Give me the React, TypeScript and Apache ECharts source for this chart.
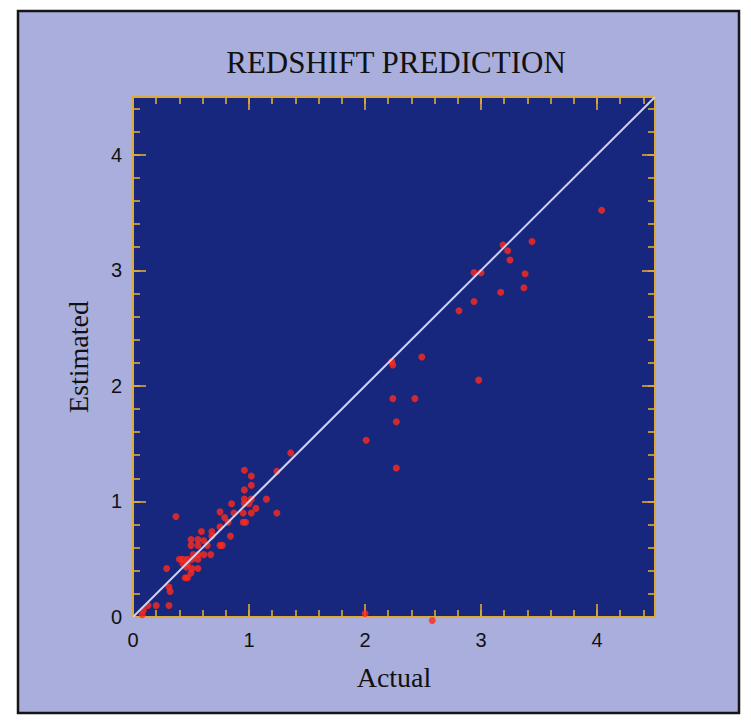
import React, { useEffect, useRef } from "react";
import * as echarts from "echarts";

const TITLE = "REDSHIFT PREDICTION";
const X_NAME = "Actual";
const Y_NAME = "Estimated";
const AXIS_MIN = 0;
const AXIS_MAX = 4.5;
const MAJOR_STEP = 1;
const MINOR_STEP = 0.2;

// Actual redshift of each galaxy
const actual = [
  4.04, 3.44, 3.19, 3.23, 3.25, 2.94, 3.0, 3.38, 3.37, 3.17, 2.94, 2.81,
  2.49, 2.23, 2.24, 2.98, 2.24, 2.43, 2.27, 2.01, 2.27,
  2.0, 2.58,
  1.36, 0.96, 1.24, 1.02, 1.02, 0.96, 0.96, 1.02, 1.15, 0.85, 0.96, 1.0,
  1.06, 0.75, 0.87, 0.95, 1.02, 1.24, 0.37, 0.79, 0.82, 0.95, 0.97, 0.75,
  0.59, 0.68, 0.68, 0.84, 0.5, 0.56, 0.61, 0.5, 0.56, 0.64, 0.75, 0.77,
  0.52, 0.56, 0.61, 0.67, 0.4, 0.43, 0.47, 0.51, 0.56, 0.43, 0.47, 0.46,
  0.51, 0.56, 0.29, 0.5, 0.45, 0.47, 0.31, 0.32, 0.31, 0.2, 0.13, 0.08, 0.09,
];

// Estimated redshift of each galaxy
const estimated = [
  3.52, 3.25, 3.22, 3.17, 3.09, 2.98, 2.98, 2.97, 2.85, 2.81, 2.73, 2.65,
  2.25, 2.21, 2.18, 2.05, 1.89, 1.89, 1.69, 1.53, 1.29,
  0.03, -0.03,
  1.42, 1.27, 1.26, 1.22, 1.14, 1.1, 1.02, 1.02, 1.02, 0.98, 0.98, 0.98,
  0.94, 0.91, 0.9, 0.9, 0.9, 0.9, 0.87, 0.86, 0.82, 0.82, 0.82, 0.78,
  0.74, 0.74, 0.7, 0.7, 0.67, 0.67, 0.66, 0.62, 0.62, 0.62, 0.62, 0.62,
  0.54, 0.54, 0.54, 0.54, 0.5, 0.5, 0.5, 0.5, 0.5, 0.46, 0.46, 0.43,
  0.42, 0.42, 0.42, 0.38, 0.34, 0.34, 0.26, 0.22, 0.1, 0.1, 0.1, 0.02, 0.06,
];

// Perfect-prediction diagonal
const diagonal = [
  [AXIS_MIN, AXIS_MIN],
  [AXIS_MAX, AXIS_MAX],
];

const LAVENDER = "#a9aedd";
const NAVY = "#16277d";
const GOLD = "#dcaa3a";
const RED = "#ff2a1c";

const labelFmt = (v: number) =>
  Math.abs(v - Math.round(v)) < 1e-6 ? String(Math.round(v)) : "";

function makeAxis(
  dir: "x" | "y",
  position: string,
  major: boolean,
  showLabel: boolean,
  withName: boolean
) {
  const ax: any = {
    type: "value",
    gridIndex: 0,
    position,
    min: AXIS_MIN,
    max: AXIS_MAX,
    interval: major ? MAJOR_STEP : MINOR_STEP,
    axisLine: {
      show: true,
      onZero: false,
      lineStyle: { color: GOLD, width: 2 },
    },
    axisTick: {
      show: true,
      inside: true,
      length: major ? 13 : 7,
      lineStyle: { color: GOLD, width: 1.6 },
    },
    axisLabel: {
      show: showLabel,
      formatter: labelFmt,
      fontFamily: "Liberation Sans",
      fontSize: 20,
      color: "#111",
      margin: dir === "x" ? 13 : 11,
    },
    splitLine: { show: false },
  };
  if (withName) {
    ax.name = dir === "x" ? X_NAME : Y_NAME;
    ax.nameLocation = "middle";
    ax.nameGap = dir === "x" ? 46 : 41;
    ax.nameTextStyle = {
      fontFamily: "Liberation Serif",
      fontSize: 28,
      color: "#111",
    };
  }
  return ax;
}

export default function App() {
  const ref = useRef<HTMLDivElement>(null);

  useEffect(() => {
    if (!ref.current) return;
    const chart = echarts.init(ref.current, undefined, { renderer: "svg" });
    const points = actual.map((a, i) => [a, estimated[i]]);

    chart.setOption({
      animation: false,
      backgroundColor: "#ffffff",
      graphic: [
        {
          type: "rect",
          z: -100,
          silent: true,
          shape: { x: 18, y: 11, width: 721, height: 702 },
          style: { fill: LAVENDER, stroke: "#151515", lineWidth: 2.5 },
        },
        {
          type: "text",
          x: 396,
          y: 62,
          silent: true,
          style: {
            text: TITLE,
            fontFamily: "Liberation Serif",
            fontSize: 31,
            fill: "#111",
            textAlign: "center",
            textVerticalAlign: "middle",
          },
        },
      ],
      grid: {
        left: 133,
        top: 97,
        width: 522,
        height: 520,
        show: true,
        backgroundColor: NAVY,
        borderWidth: 0,
      },
      xAxis: [
        makeAxis("x", "bottom", true, true, true),
        makeAxis("x", "bottom", false, false, false),
        makeAxis("x", "top", true, false, false),
        makeAxis("x", "top", false, false, false),
      ],
      yAxis: [
        makeAxis("y", "left", true, true, true),
        makeAxis("y", "left", false, false, false),
        makeAxis("y", "right", true, false, false),
        makeAxis("y", "right", false, false, false),
      ],
      series: [
        {
          type: "scatter",
          xAxisIndex: 0,
          yAxisIndex: 0,
          data: points,
          symbolSize: 7,
          clip: false,
          z: 2,
          itemStyle: { color: RED },
        },
        {
          type: "line",
          xAxisIndex: 0,
          yAxisIndex: 0,
          data: diagonal,
          showSymbol: false,
          silent: true,
          z: 3,
          lineStyle: { color: "#cfd0f0", width: 2 },
        },
      ],
    });

    return () => chart.dispose();
  }, []);

  return (
    <div
      ref={ref}
      style={{ position: "absolute", left: 0, top: 0, width: 751, height: 723 }}
    />
  );
}
